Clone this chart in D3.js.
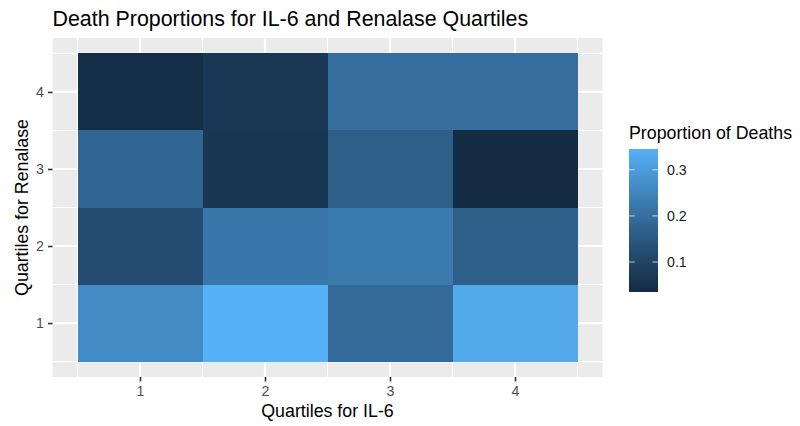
<!DOCTYPE html>
<html>
<head>
<meta charset="utf-8">
<script src="https://cdn.jsdelivr.net/npm/d3@7"></script>
<style>
  body { margin: 0; background: #fff; }
  svg { display: block; font-family: "Liberation Sans", Arial, sans-serif; }
</style>
</head>
<body>
<svg id="chart" width="800" height="426"></svg>
<script>
// data
const il6Quartiles = [1, 2, 3, 4]
const renalaseQuartiles = [1, 2, 3, 4]
// death proportion per renalase quartile, across IL-6 quartiles 1..4
const renalaseQ1 = [0.265, 0.345, 0.19, 0.33]
const renalaseQ2 = [0.12, 0.22, 0.225, 0.165]
const renalaseQ3 = [0.18, 0.065, 0.165, 0.035]
const renalaseQ4 = [0.045, 0.07, 0.2, 0.2]
const legendTicks = [0.1, 0.2, 0.3]

const rows = [renalaseQ1, renalaseQ2, renalaseQ3, renalaseQ4]
let cells = []
renalaseQuartiles.forEach((r, i) => {
  il6Quartiles.forEach((q, j) => {
    cells.push({ il6: q, renalase: r, value: rows[i][j] })
  })
})

const svg = d3.select('#chart')
const panel = { left: 52.5, right: 602.5, top: 38, bottom: 377 }

let x = d3.scaleLinear()
  .domain([0.3, 4.7])
  .range([panel.left, panel.right])
let y = d3.scaleLinear()
  .domain([0.3, 4.7])
  .range([panel.bottom, panel.top])

let min = d3.min(cells, d => d.value)
let max = d3.max(cells, d => d.value)
let color = d3.scaleLinear()
  .domain([min, max])
  .range(['#132B43', '#56B1F7'])
  .interpolate(d3.interpolateLab)

// panel background + grid
svg.append('rect')
  .attr('x', panel.left).attr('y', panel.top)
  .attr('width', panel.right - panel.left)
  .attr('height', panel.bottom - panel.top)
  .attr('fill', '#EBEBEB')

const minor = [0.5, 1.5, 2.5, 3.5, 4.5]
let grid = svg.append('g')
minor.forEach(v => {
  grid.append('line').attr('x1', x(v)).attr('x2', x(v)).attr('y1', panel.top).attr('y2', panel.bottom)
    .attr('stroke', '#fff').attr('stroke-width', 1.1)
  grid.append('line').attr('y1', y(v)).attr('y2', y(v)).attr('x1', panel.left).attr('x2', panel.right)
    .attr('stroke', '#fff').attr('stroke-width', 1.1)
})
il6Quartiles.forEach(v => {
  grid.append('line').attr('x1', x(v)).attr('x2', x(v)).attr('y1', panel.top).attr('y2', panel.bottom)
    .attr('stroke', '#fff').attr('stroke-width', 2.2)
})
renalaseQuartiles.forEach(v => {
  grid.append('line').attr('y1', y(v)).attr('y2', y(v)).attr('x1', panel.left).attr('x2', panel.right)
    .attr('stroke', '#fff').attr('stroke-width', 2.2)
})

// tiles
svg.append('g')
  .selectAll('rect')
  .data(cells)
  .enter()
  .append('rect')
  .attr('x', d => x(d.il6 - 0.5))
  .attr('y', d => y(d.renalase + 0.5))
  .attr('width', d => x(d.il6 + 0.5) - x(d.il6 - 0.5))
  .attr('height', d => y(d.renalase - 0.5) - y(d.renalase + 0.5))
  .attr('fill', d => color(d.value))
  .attr('shape-rendering', 'crispEdges')

// axes
let xAxis = d3.axisBottom(x).tickValues(il6Quartiles).tickSize(4.5).tickPadding(4).tickFormat(d3.format('d'))
let gx = svg.append('g').attr('transform', `translate(0, ${panel.bottom})`).call(xAxis)
let yAxis = d3.axisLeft(y).tickValues(renalaseQuartiles).tickSize(4.5).tickPadding(4).tickFormat(d3.format('d'))
let gy = svg.append('g').attr('transform', `translate(${panel.left}, 0)`).call(yAxis)
;[gx, gy].forEach(g => {
  g.select('.domain').remove()
  g.selectAll('.tick line').attr('stroke', '#333333').attr('stroke-width', 1.6)
  g.selectAll('.tick text').attr('fill', '#4D4D4D').style('font-size', '14.2px').style('font-family', '"Liberation Sans", Arial, sans-serif')
})

// titles
svg.append('text')
  .attr('x', panel.left).attr('y', 26)
  .style('font-size', '21.4px')
  .text('Death Proportions for IL-6 and Renalase Quartiles')
svg.append('text')
  .attr('x', (panel.left + panel.right) / 2).attr('y', 417)
  .attr('text-anchor', 'middle')
  .style('font-size', '17.8px')
  .text('Quartiles for IL-6')
svg.append('text')
  .attr('transform', `translate(28, ${(panel.top + panel.bottom) / 2}) rotate(-90)`)
  .attr('text-anchor', 'middle')
  .style('font-size', '17.8px')
  .text('Quartiles for Renalase')

// legend
const bar = { x: 629, y: 149, w: 29, h: 143 }
let legendScale = d3.scaleLinear()
  .domain([min, max])
  .range([bar.y + bar.h, bar.y])

let defs = svg.append('defs')
let grad = defs.append('linearGradient')
  .attr('id', 'grad').attr('x1', 0).attr('y1', 1).attr('x2', 0).attr('y2', 0)
d3.range(0, 1.0001, 0.05).forEach(t => {
  grad.append('stop').attr('offset', t).attr('stop-color', color(min + t * (max - min)))
})

svg.append('text')
  .attr('x', bar.x).attr('y', 139)
  .style('font-size', '17.8px')
  .text('Proportion of Deaths')

svg.append('rect')
  .attr('x', bar.x).attr('y', bar.y)
  .attr('width', bar.w).attr('height', bar.h)
  .attr('fill', 'url(#grad)')

let lg = svg.append('g')
legendTicks.forEach(v => {
  lg.append('line').attr('x1', bar.x).attr('x2', bar.x + 5.7)
    .attr('y1', legendScale(v)).attr('y2', legendScale(v))
    .attr('stroke', '#fff').attr('stroke-opacity', 0.6).attr('stroke-width', 1.2)
  lg.append('line').attr('x1', bar.x + bar.w - 5.7).attr('x2', bar.x + bar.w)
    .attr('y1', legendScale(v)).attr('y2', legendScale(v))
    .attr('stroke', '#fff').attr('stroke-opacity', 0.6).attr('stroke-width', 1.2)
  lg.append('text')
    .attr('x', bar.x + bar.w + 9).attr('y', legendScale(v))
    .attr('dy', '0.35em')
    .style('font-size', '14.2px')
    .attr('fill', '#1a1a1a')
    .text(v.toFixed(1))
})
</script>
</body>
</html>
